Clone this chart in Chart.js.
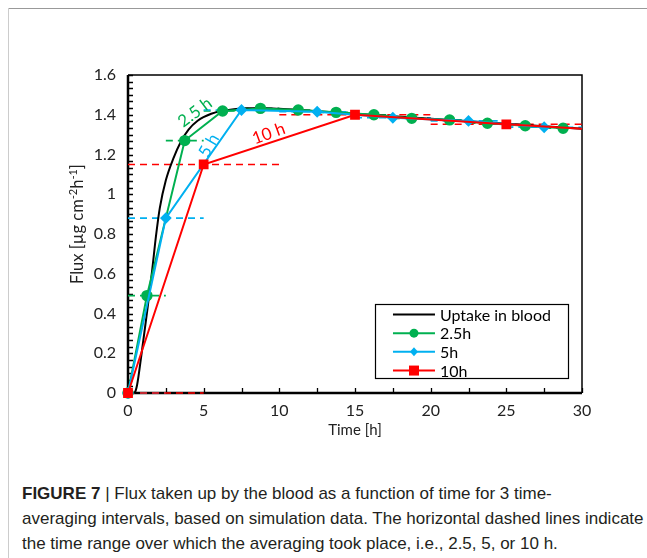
<!DOCTYPE html>
<html><head><meta charset="utf-8">
<script src="https://cdn.jsdelivr.net/npm/chart.js@4.4.1/dist/chart.umd.min.js"></script>
<style>
html,body{margin:0;padding:0;background:#fff;}
body{width:647px;height:558px;position:relative;overflow:hidden;}
#frameTop{position:absolute;left:8px;top:8px;width:639px;height:0;border-top:1px solid #999;}
#frameLeft{position:absolute;left:8px;top:8px;width:0;height:550px;border-left:1px solid #ccc;}
#c{position:absolute;left:0;top:0;}
#cap{position:absolute;left:22px;top:481px;font-family:'Liberation Sans Narrow','Liberation Sans',sans-serif;font-size:17px;line-height:25px;color:#231f20;white-space:nowrap;}
#cap b{font-weight:bold;}
</style></head>
<body>
<div id="frameTop"></div><div id="frameLeft"></div>
<canvas id="c" width="647" height="460"></canvas>
<div id="cap"><b>FIGURE 7</b> | Flux taken up by the blood as a function of time for 3 time-<br>averaging intervals, based on simulation data. The horizontal dashed lines indicate<br>the time range over which the averaging took place, i.e., 2.5, 5, or 10 h.</div>
<script>
// ---- data ----
const uptakeTime = [0, 0.3, 0.46, 0.6, 0.9, 1.28, 1.6, 1.85, 2.1, 2.5, 3.0, 3.5, 4.0, 4.6, 5.5, 6.3, 7, 8, 9, 10, 12, 14, 16, 18, 20, 22, 24, 26, 28, 30];
const uptakeFlux = [0, 0, 0.005, 0.04, 0.2, 0.42, 0.62, 0.79, 0.93, 1.07, 1.18, 1.265, 1.325, 1.37, 1.405, 1.42, 1.428, 1.433, 1.433, 1.43, 1.42, 1.41, 1.40, 1.39, 1.38, 1.37, 1.36, 1.35, 1.34, 1.33];

const time25 = [0, 1.25, 3.75, 6.25, 8.75, 11.25, 13.75, 16.25, 18.75, 21.25, 23.75, 26.25, 28.75];
const flux25 = [0, 0.49, 1.27, 1.419, 1.432, 1.424, 1.412, 1.40, 1.382, 1.374, 1.357, 1.345, 1.332];

const time5 = [0, 2.5, 7.5, 12.5, 17.5, 22.5, 27.5];
const flux5 = [0, 0.88, 1.424, 1.415, 1.385, 1.369, 1.337];

const time10 = [0, 5, 15, 25, 30];
const flux10 = [0, 1.15, 1.40, 1.352, 1.33];
const marker10 = [true, true, true, true, false];

const seriesNames = ['Uptake in blood', '2.5h', '5h', '10h'];
const intervals = [2.5, 5, 10];
const yTickValues = [0, 0.2, 0.4, 0.6, 0.8, 1, 1.2, 1.4, 1.6];
const yTickLabels = ['0', '0.2', '0.4', '0.6', '0.8', '1', '1.2', '1.4', '1.6'];
const xTickValues = [0, 5, 10, 15, 20, 25, 30];
const xTickLabels = ['0', '5', '10', '15', '20', '25', '30'];
const intervalLabels = ['2.5 h', '5 h', '10 h'];
const intervalLabelPos = [[4.43, 1.412], [5.35, 1.245], [9.3, 1.305]];
const yTitleParts = [['Flux [µg cm', false], ['-2', true], ['h', false], ['-1', true], [']', false]];

// ---- styles ----
const GREEN = '#00b050', BLUE = '#00b0f0', RED = '#ff0000', BLACK = '#000000';
const FONT = "Lato, 'Open Sans', sans-serif";

function pts(t, f) { return t.map((v, i) => ({x: v, y: f[i]})); }
function dashes(t, f, w, nPts) {
  const out = [];
  const n = nPts === undefined ? t.length : nPts;
  for (let i = 0; i < n; i++) {
    out.push({x: Math.max(0, t[i] - w / 2), y: f[i]});
    out.push({x: Math.min(30, t[i] + w / 2), y: f[i]});
    out.push({x: Math.min(30, t[i] + w / 2), y: null});
  }
  return out;
}
function dashSet(data, color, order) {
  return {data, borderColor: color, borderWidth: 1.6, borderDash: [7, 5], pointRadius: 0, showLine: true, spanGaps: false, order, clip: false};
}

const datasets = [
  {label: seriesNames[3], data: pts(time10, flux10), borderColor: RED, backgroundColor: RED, borderWidth: 2, pointStyle: 'rect', pointRadius: marker10.map(m => m ? 5.5 : 0), showLine: true, order: 0, clip: false},
  {label: seriesNames[2], data: pts(time5, flux5), borderColor: BLUE, backgroundColor: BLUE, borderWidth: 2, pointStyle: 'rectRot', pointRadius: 4.5, showLine: true, order: 1, clip: false},
  {label: seriesNames[1], data: pts(time25, flux25), borderColor: GREEN, backgroundColor: GREEN, borderWidth: 2, pointStyle: 'circle', pointRadius: 4.7, showLine: true, order: 2, clip: false},
  {label: seriesNames[0], data: pts(uptakeTime, uptakeFlux), borderColor: BLACK, borderWidth: 2, pointRadius: 0, showLine: true, cubicInterpolationMode: 'monotone', order: 3, clip: false},
  dashSet(dashes(time10, flux10, intervals[2], 4), RED, 4),
  dashSet(dashes(time5, flux5, intervals[1]), BLUE, 5),
  dashSet(dashes(time25, flux25, intervals[0]), GREEN, 6)
];

const framePlugin = {
  id: 'framePlugin',
  beforeDatasetsDraw(chart) {
    const {ctx, chartArea: a, scales: {x, y}} = chart;
    ctx.save();
    ctx.strokeStyle = '#000';
    ctx.lineWidth = 1.3;
    ctx.beginPath();
    for (let k = 0; k <= 48; k++) {
      const py = Math.round(y.getPixelForValue(k * 1.6 / 48)) + 0.5;
      ctx.moveTo(a.left, py); ctx.lineTo(a.left + 5, py);
    }
    for (let k = 0; k <= 12; k++) {
      const px = Math.round(x.getPixelForValue(k * 2.5)) + 0.5;
      ctx.moveTo(px, a.bottom); ctx.lineTo(px, a.bottom - 5);
    }
    ctx.stroke();
    ctx.lineWidth = 1.5;
    ctx.beginPath();
    ctx.moveTo(a.left, a.top); ctx.lineTo(a.right, a.top); ctx.lineTo(a.right, a.bottom);
    ctx.stroke();
    ctx.lineWidth = 2.5;
    ctx.beginPath();
    ctx.moveTo(a.left, a.top); ctx.lineTo(a.left, a.bottom); ctx.lineTo(a.right, a.bottom);
    ctx.stroke();

    // y-axis title with superscripts
    ctx.save();
    ctx.translate(78, y.getPixelForValue(0.85));
    ctx.rotate(-Math.PI / 2);
    ctx.fillStyle = '#222';
    ctx.textBaseline = 'middle'; ctx.textAlign = 'left';
    const fN = "16.5px " + FONT, fS = "11px " + FONT;
    let total = 0;
    yTitleParts.forEach(p => { ctx.font = p[1] ? fS : fN; total += ctx.measureText(p[0]).width; });
    let cx = -total / 2;
    yTitleParts.forEach(p => {
      ctx.font = p[1] ? fS : fN;
      ctx.fillText(p[0], cx, p[1] ? -5 : 0);
      cx += ctx.measureText(p[0]).width;
    });
    ctx.restore();
    ctx.restore();
  },
  afterDatasetsDraw(chart) {
    const {ctx, chartArea: a, scales: {x, y}} = chart;
    ctx.save();
    const colors = [GREEN, BLUE, RED];
    const angles = [-37, -60, -20];
    ctx.font = "17px " + FONT;
    ctx.textAlign = 'center'; ctx.textBaseline = 'middle';
    intervalLabels.forEach((t, i) => {
      ctx.save();
      ctx.translate(x.getPixelForValue(intervalLabelPos[i][0]), y.getPixelForValue(intervalLabelPos[i][1]));
      ctx.rotate(angles[i] * Math.PI / 180);
      ctx.fillStyle = colors[i];
      ctx.fillText(t, 0, 0);
      ctx.restore();
    });
    // legend box
    const W = a.right - a.left, H = a.bottom - a.top;
    const bx = a.left + 0.544 * W, by = a.top + 0.72 * H;
    const bw = 0.425 * W, bh = 0.233 * H;
    ctx.fillStyle = '#fff';
    ctx.fillRect(bx, by, bw, bh);
    ctx.strokeStyle = '#000'; ctx.lineWidth = 1.2;
    ctx.strokeRect(Math.round(bx) + 0.5, Math.round(by) + 0.5, Math.round(bw), Math.round(bh));
    const order = [3, 2, 1, 0];
    const styles = [[BLACK, null], [GREEN, 'circle'], [BLUE, 'rectRot'], [RED, 'rect']];
    ctx.font = "16px " + FONT;
    ctx.textAlign = 'left'; ctx.textBaseline = 'middle';
    order.forEach((di, r) => {
      const ds = chart.data.datasets[di];
      const ry = by + 10.5 + r * 18.7;
      const lx0 = bx + 18, lx1 = bx + 60;
      ctx.strokeStyle = styles[r][0]; ctx.lineWidth = 2;
      ctx.beginPath(); ctx.moveTo(lx0, ry); ctx.lineTo(lx1, ry); ctx.stroke();
      if (styles[r][1]) {
        ctx.fillStyle = styles[r][0];
        ctx.beginPath();
        const cx = (lx0 + lx1) / 2;
        if (styles[r][1] === 'circle') { ctx.arc(cx, ry, 4.5, 0, Math.PI * 2); }
        else if (styles[r][1] === 'rect') { ctx.rect(cx - 5, ry - 5, 10, 10); }
        else { ctx.moveTo(cx, ry - 4.5); ctx.lineTo(cx + 4, ry); ctx.lineTo(cx, ry + 4.5); ctx.lineTo(cx - 4, ry); ctx.closePath(); }
        ctx.fill();
      }
      ctx.fillStyle = '#000';
      ctx.fillText(ds.label, lx1 + 5, ry + 1);
    });
    ctx.restore();
  }
};

new Chart(document.getElementById('c'), {
  type: 'scatter',
  data: {datasets},
  options: {
    responsive: false,
    animation: false,
    events: [],
    layout: {padding: {left: 60, right: 65, top: 75, bottom: 17}},
    plugins: {legend: {display: false}, tooltip: {enabled: false}},
    elements: {line: {tension: 0}, point: {borderWidth: 0}},
    scales: {
      x: {
        type: 'linear', min: 0, max: 30,
        afterBuildTicks: s => { s.ticks = xTickValues.map(v => ({value: v})); },
        afterFit: s => { s.height = 50; },
        grid: {display: false, drawTicks: false},
        border: {display: false},
        ticks: {padding: 8, color: '#222', font: {family: FONT, size: 16}, maxRotation: 0,
          callback: (v) => xTickLabels[xTickValues.indexOf(v)]},
        title: {display: true, text: 'Time [h]', color: '#222', font: {family: FONT, size: 15}, padding: {top: 0, bottom: 4}}
      },
      y: {
        type: 'linear', min: 0, max: 1.6,
        afterBuildTicks: s => { s.ticks = yTickValues.map(v => ({value: v})); },
        afterFit: s => { s.width = 68; },
        grid: {display: false, drawTicks: false},
        border: {display: false},
        ticks: {padding: 12, color: '#222', font: {family: FONT, size: 16},
          callback: (v) => yTickLabels[yTickValues.indexOf(v)]},
        title: {display: false}
      }
    }
  },
  plugins: [framePlugin]
});
</script>
</body></html>
